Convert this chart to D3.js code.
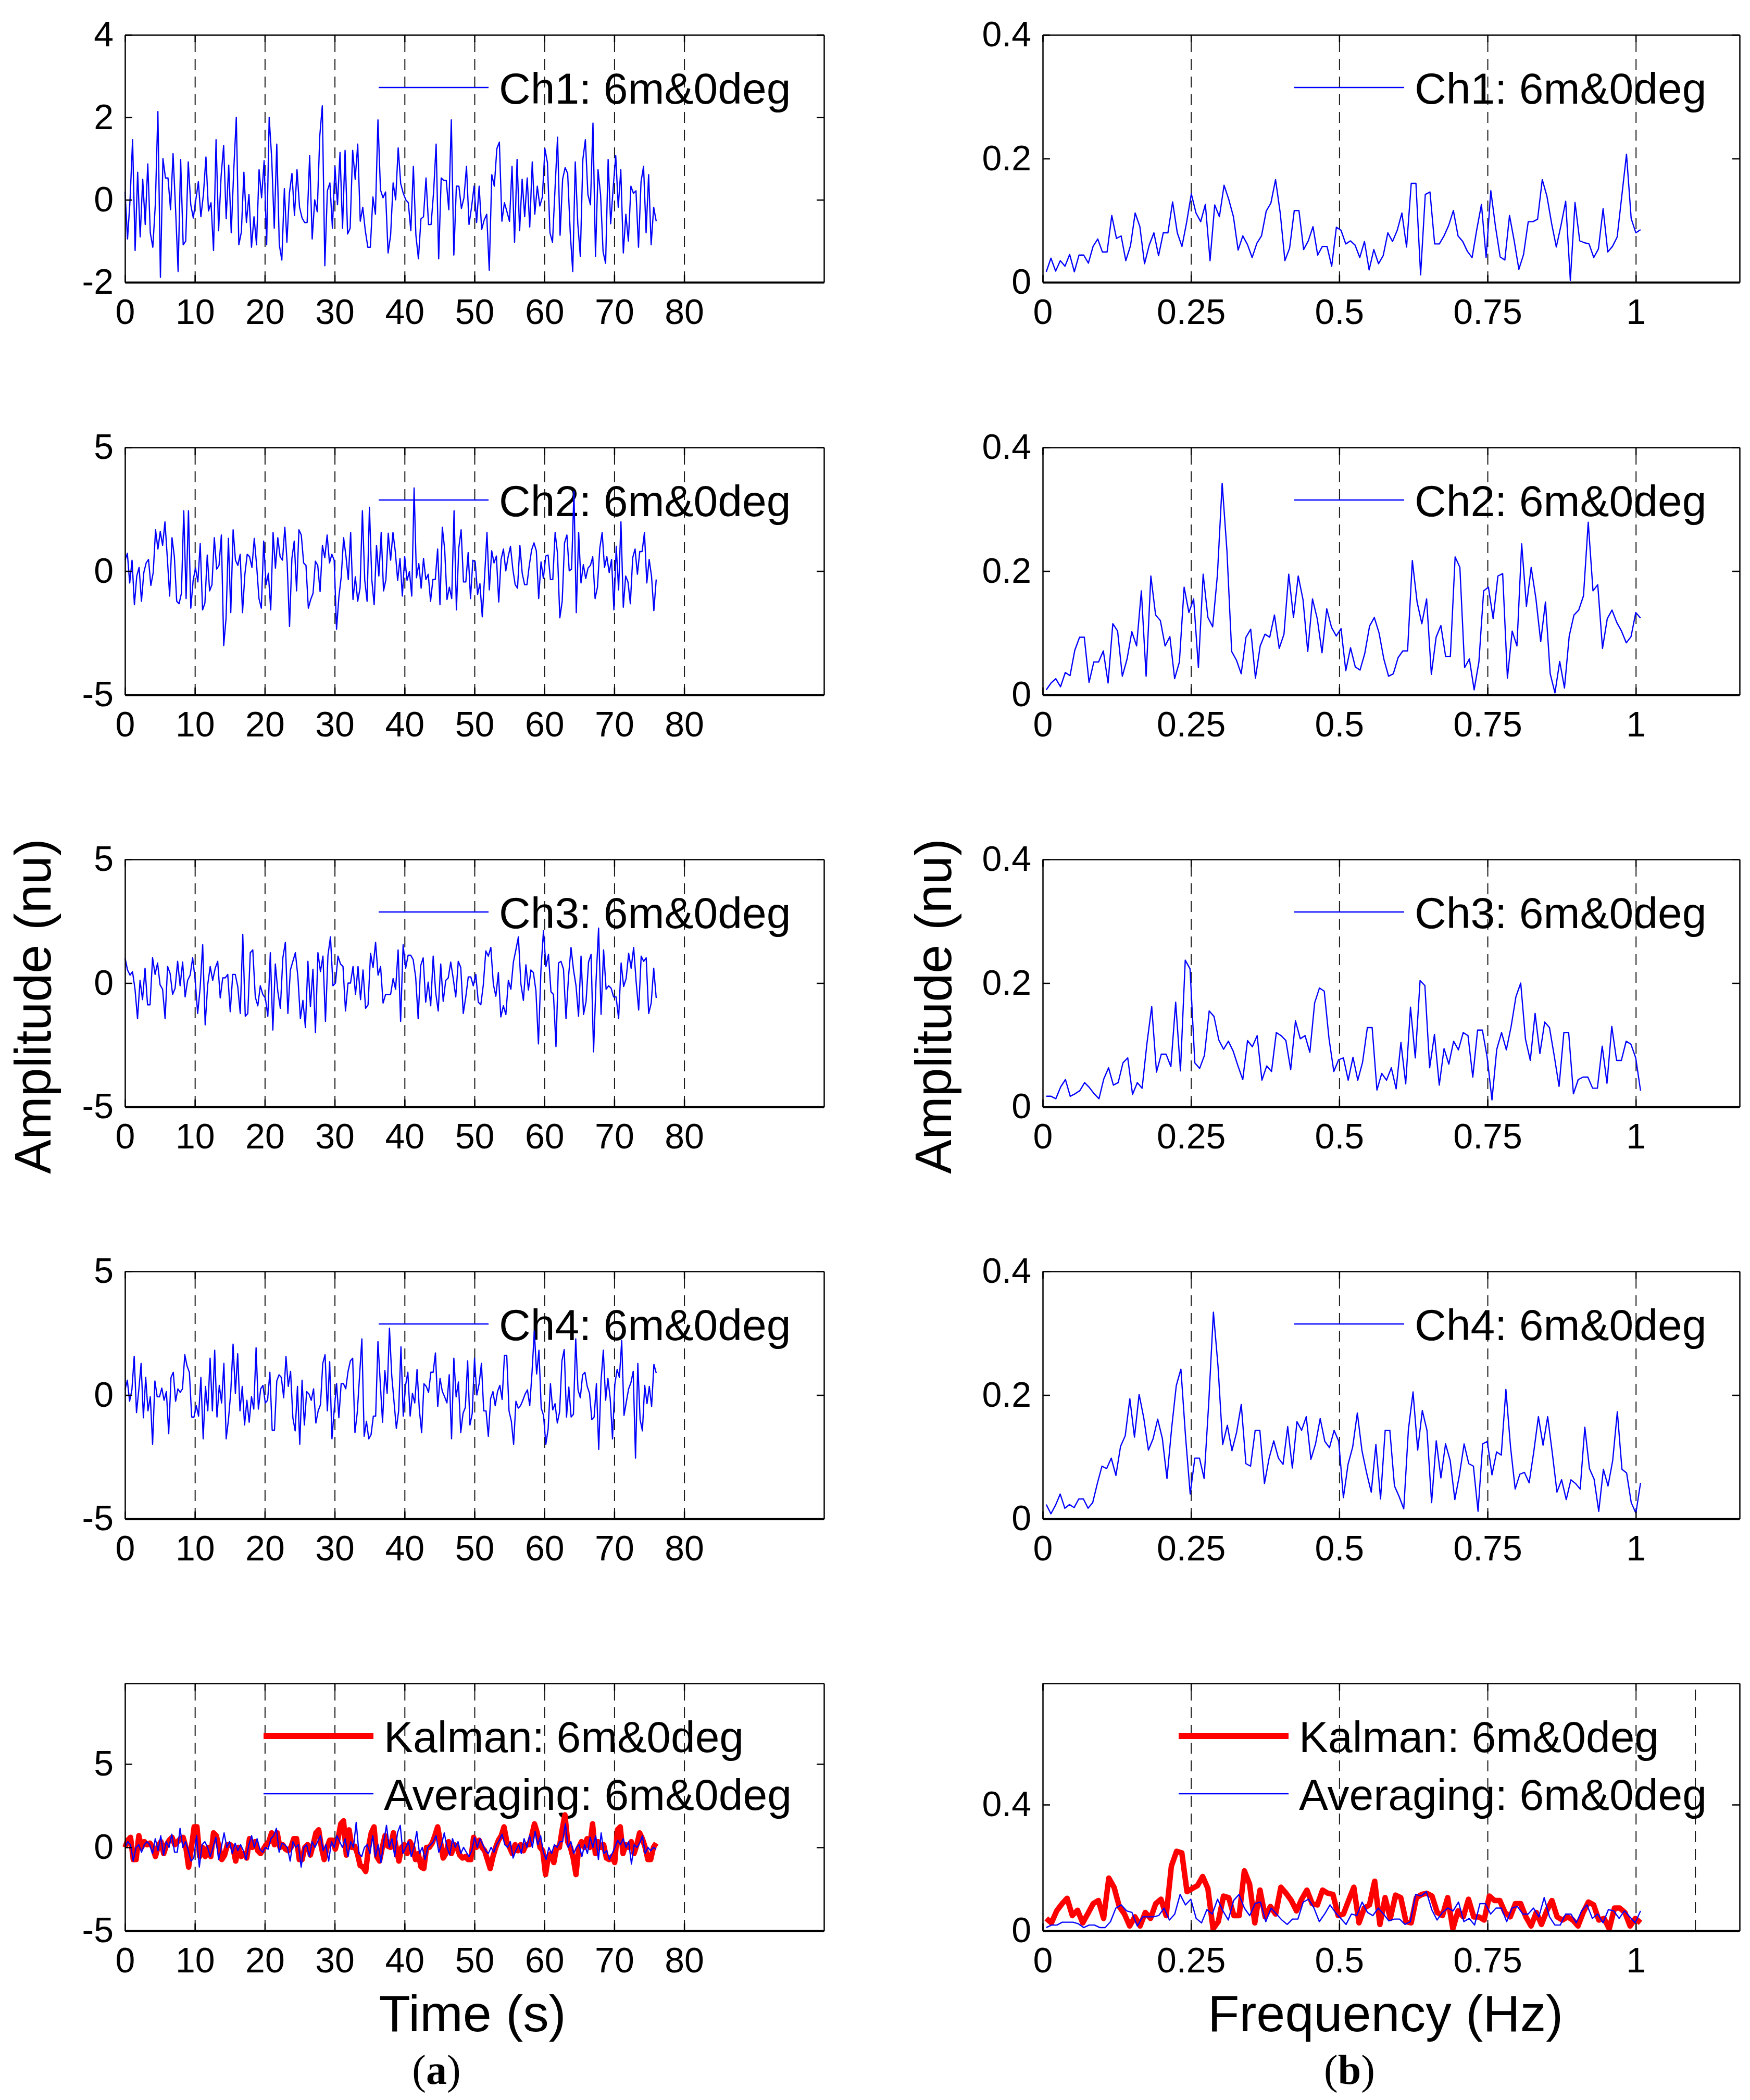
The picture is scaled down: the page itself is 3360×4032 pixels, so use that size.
<!DOCTYPE html>
<html><head><meta charset="utf-8">
<script src="https://cdn.jsdelivr.net/npm/d3@7"></script>
<style>body{margin:0;background:#fff}svg{display:block}</style>
</head><body><svg id="c" width="3360" height="4032"></svg>
<script>
// ---------------- DATA ----------------
const timeTicks = [0,10,20,30,40,50,60,70,80];
const timeGrid = [10,20,30,40,50,60,70,80];
const freqTicks = [0,0.25,0.5,0.75,1];
const freqGrid = [0.25,0.5,0.75,1];
const freqGridBottom = [0.25,0.5,0.75,1,1.1];
const yTicksCh1 = [-2,0,2,4];
const yTicksCh = [-5,0,5];
const yTicksSpec = [0,0.2,0.4];
const yTicksSpecBottom = [0,0.4];
const channelNames = ["Ch1: 6m&0deg","Ch2: 6m&0deg","Ch3: 6m&0deg","Ch4: 6m&0deg"];
const fusedNames = ["Kalman: 6m&0deg","Averaging: 6m&0deg"];
const tStart = 0, tEnd = 76.0;     // seconds covered by the time records
const fStart = 0.006, fEnd = 1.008; // Hz covered by the spectra

const ch1Time = [0.2,-0.95,0,1.46,-1.23,0.67,-0.9,0.5,-0.6,0.87,-0.8,-1.15,-0.1,2.14,-1.88,1.0,0.53,0.53,-0.24,1.12,-0.24,-1.74,0.98,-1.09,-1.0,0.92,-0.12,-0.44,0,0.44,-0.41,0.13,1.04,-0.27,-0.07,-1.23,1.46,-0.75,0.58,1.32,-0.46,0.84,-0.8,0.73,2.0,-1.09,-0.78,0.67,-0.55,0.13,-1.15,-0.41,-1.09,0.73,0.05,0.95,-1.09,2.0,1.0,-0.69,1.35,-1.09,-1.46,0.27,-1.03,0.16,0.64,-0.38,0.73,-0.18,-0.44,-0.55,-0.55,1.07,-0.95,0,-0.29,1.55,2.28,-1.6,0.22,0.41,-0.69,0.81,-0.12,1.15,-0.69,1.2,-0.83,-0.69,1.2,0.5,1.35,-0.52,-0.18,-0.75,-1.15,-1.15,0.07,-0.35,1.94,0.24,0.05,0.19,-1.29,-0.86,0.41,0,1.26,0.39,0.16,0,-0.07,-0.75,0.81,-0.86,-1.43,-0.46,-0.41,0.53,-0.6,-0.6,0.19,1.35,-1.43,0.53,0.47,0.47,-0.24,1.94,-1.34,0.33,0.33,-0.21,0.05,0.81,-0.6,-0.18,0.33,-0.55,0.33,-0.72,-0.49,-0.35,-1.71,0.61,0.33,1.24,1.4,-0.52,-0.07,-0.29,-0.52,0.81,-1.03,0.98,-0.75,0.5,-0.41,0.53,-0.66,0.92,-0.35,0.33,-0.15,0.07,1.24,0.9,-0.8,-1.03,0.27,1.52,-0.86,0.5,0.78,0.64,-0.78,-1.74,0.92,-0.58,-1.37,0.98,1.46,0.13,-0.12,1.86,-1.37,0.73,0.13,-1.26,-1.54,0.98,-0.58,0.3,1.07,-0.18,0.73,-1.29,-0.35,-1.0,0.33,0.16,0.22,-1.15,0.44,0.81,-0.8,0.61,-1.09,-0.18,-0.52];

const ch2Time = [0.44,0.72,-0.48,0.44,-1.36,-0.2,0.15,-1.22,-0.06,0.33,0.47,-0.58,-0.06,1.67,0.89,1.6,1.04,1.99,0.54,-1.01,1.35,0.58,-1.22,-1.32,-0.9,2.44,-1.11,2.44,-1.5,-0.37,0.12,-0.44,1.11,-1.57,-1.29,0.65,-0.8,-0.55,1.35,0.08,0.23,1.46,-3.01,-1.89,1.32,-1.68,1.67,0.44,0.23,0.68,-1.68,-0.13,0.68,0.58,0.15,1.32,0.23,-1.11,-1.5,1.21,-0.55,-0.09,-1.57,1.56,0.12,1.35,0.58,0.44,1.77,0.3,-2.24,0.51,1.21,-0.8,1.67,1.46,0.33,0.23,-1.5,-1.15,-0.9,0.4,0.23,-0.83,1.04,0.54,1.46,0.33,0.68,0.44,-2.35,-1.04,-0.23,1.35,0.61,-0.34,1.56,-1.15,-0.23,-1.22,-0.69,2.44,-0.37,-1.22,2.58,-0.34,-1.36,1.04,-0.2,1.56,-0.8,-0.34,1.53,0.44,1.56,0.79,-0.37,0.51,-1.01,0.58,-0.37,-0.02,-1.01,3.36,-0.27,0.3,-0.69,0.51,-0.34,-0.13,-1.22,-0.34,-0.34,0.89,-1.36,1.77,0.89,-1.15,-0.65,-1.11,2.44,-1.57,0.93,1.67,-0.44,-0.44,0.75,-1.11,0.44,0.37,-0.94,-0.51,-1.85,-0.2,1.56,-0.76,0.82,0.33,0.61,-1.25,0.47,0.89,0.01,0.58,1.0,0.08,-0.55,-0.69,1.04,-0.09,-0.55,-0.55,0.23,0.86,1.14,0.82,-1.11,0.37,-0.3,0.61,0.65,-0.34,-0.34,1.56,0.72,-1.89,-1.22,1.14,1.46,0.01,0.08,3.22,-1.68,1.56,-0.48,0.26,-0.3,0.12,0.23,0.58,-1.11,-0.65,0.93,1.56,0.15,0.58,-0.06,0.47,-1.57,1.0,-0.76,1.99,-1.46,-0.2,-0.44,-1.32,0.54,0.89,-0.13,0.79,0.79,1.56,-0.48,0.47,-0.2,-1.6,-0.34];

const ch3Time = [1.02,0.53,0.32,0.46,-0.25,-1.44,0.11,-0.67,0.6,-0.88,-0.88,1.02,0.35,0.81,-0.07,-0.25,-1.44,0.67,0.39,-0.46,-0.21,0.88,-0.11,0.85,-0.56,0.11,0.32,1.02,0.14,-1.23,-0.18,1.55,-1.69,-0.07,0.67,0.11,0.6,0.88,-0.6,0.21,0.21,0.35,-1.16,0.35,0.35,-0.14,-1.23,1.97,-1.34,-1.23,1.23,1.34,-0.56,-0.92,-0.11,-0.46,-0.6,-1.34,1.23,-1.9,0.77,-0.35,-1.02,1.02,1.65,-1.23,0.53,0.88,1.23,0.25,-1.44,-0.7,-1.8,0.88,-0.95,0.56,-2.0,1.23,0.46,1.09,-1.55,1.13,1.87,-0.11,0,1.09,0.77,0.67,-1.13,0,0,0.67,-0.46,0.67,-0.67,0.53,-1.02,-0.88,1.2,0.63,1.65,0.32,0.67,-0.81,-0.46,-0.46,-0.46,0.18,-0.25,1.34,-1.55,1.55,0.6,1.13,1.13,0.95,0.25,-1.44,0.7,1.02,-0.77,0.04,-0.92,1.09,-0.39,-1.13,0.77,-0.74,0.11,0.21,0.85,0.18,-0.56,0.88,0.63,-1.23,-0.56,0.25,0.25,-0.11,0.35,-0.77,-0.88,-0.07,1.3,1.09,1.44,-0.04,-0.53,0.42,-1.37,-0.92,-1.27,0.11,-0.25,0.85,1.34,1.87,-0.04,-0.7,0.74,-0.28,0.53,0.42,-0.32,-2.46,0.53,2.11,0.67,1.16,-0.35,-0.46,-2.57,0.81,0.88,0.56,-1.44,0.25,1.44,0.53,-0.11,-1.34,1.09,-1.27,-0.74,0.85,1.16,-2.78,0.11,2.22,-1.27,1.34,-0.25,-0.11,-0.21,-0.56,-0.56,-1.44,0.81,-0.14,0.18,1.2,0.6,1.44,0.04,-1.09,1.09,0.88,1.02,-1.23,-0.81,0.6,-0.6];

const ch4Time = [0.21,0.6,-0.25,0.21,1.56,-0.71,0.21,1.28,-0.92,0.71,-0.64,-0.07,-1.99,0.57,-0.07,-0.07,0.28,-0.21,0.14,-1.56,0.71,0.92,-0.25,0.25,0.11,0.25,1.63,1.17,0.92,-0.89,-0.89,-0.43,-0.85,0.71,-1.77,0.35,-0.64,1.49,-0.64,1.81,-0.89,0.39,-0.32,1.28,-1.77,-0.99,0.14,2.06,0.07,1.67,-0.64,0.35,-1.21,-0.21,-1.1,-0.07,-0.57,1.91,-0.57,0.25,0.39,-0.32,-0.21,0.92,-1.42,-1.42,0.57,0.82,0.71,-0.11,1.56,0.35,0.96,-0.92,-1.45,0.35,-1.99,0.6,-1.21,0.14,0.04,-0.21,0.25,-1.13,-0.64,-0.39,1.28,1.63,-0.64,1.35,-1.77,-0.57,0.46,-0.92,0.46,0.46,0.25,0.96,1.38,1.49,-1.52,-0.71,0.78,2.27,-1.67,-1.06,-1.77,-1.6,-0.85,-0.85,2.16,0.5,-1.1,0.99,0.07,2.7,0.78,-0.28,-1.35,-0.64,1.95,-0.85,0.39,0.92,-0.85,0.07,-0.32,1.03,-0.6,-1.52,0.46,0.35,0.11,0.92,0.92,1.7,-0.46,0.67,0.14,-0.07,-0.32,0.82,-1.77,1.49,-0.07,0.53,-1.52,-0.74,-0.5,1.38,-1.21,-0.74,1.49,0,0.46,1.28,-0.64,-0.64,-1.67,-0.14,0.14,-0.43,0.14,0.39,-0.18,1.6,1.6,-0.64,-1.06,-1.99,-0.25,-0.53,-0.43,-0.21,0.04,0.21,-0.43,0.92,2.59,0.85,1.81,-0.53,-0.82,-1.99,-1.38,0.46,-0.6,-0.35,-1.13,-0.67,1.38,1.84,-0.89,0.32,-0.89,-0.78,2.27,0.21,-0.11,0.82,0.92,0.35,0.07,-0.99,-0.89,0.46,-2.2,0.57,1.81,-0.21,0.67,-0.14,-1.77,0.43,1.03,0.71,2.2,-0.82,-0.28,0.25,0.5,0.96,-2.55,1.28,-0.99,-1.45,0.39,-0.35,0.35,-0.46,1.24,0.89];

const kalmanTime = [0,0.43,0.6,-0.73,-0.73,0.7,0,0.34,0.16,0.25,0,-0.55,0.07,0.34,-0.37,0.16,0.43,0.6,0.16,0.34,0.52,0.6,0,-1.18,0,1.23,1.23,-0.55,0,-0.55,0,-0.55,0.87,0.7,0,-0.73,-0.46,0.16,0.16,0,-0.82,0,-0.55,-0.37,-0.64,0.52,0,0.34,-0.2,-0.37,-0.11,0.16,0.34,0.87,0.16,0.87,0,0.16,-0.11,-0.2,0,0.52,0.52,-0.73,-0.73,0,0.16,-0.46,0.16,0.87,1.05,0,-0.73,0,0.43,0.43,-0.11,0.52,1.41,1.59,-0.46,1.05,0,0.07,-0.37,-1.09,-1.18,-1.45,0,0.87,1.23,-0.55,-0.82,0,0.7,0.07,0,0.87,0,-0.82,0,0.16,-0.37,0.34,0,-0.73,-0.37,-1.18,-1.27,0,0,0.25,0.7,1.23,0.34,-0.64,-0.37,0.34,-0.37,0.16,0,-0.46,-0.64,-0.55,-0.73,-0.73,0.6,0,0.43,0,-0.2,-0.73,-1.27,-0.55,0,0.43,0.7,1.23,0.34,0,-0.37,0.16,-0.2,0.16,-0.2,0.16,0.16,0.7,1.41,0.87,0,-0.2,-1.63,-0.55,-0.37,-0.91,0,0,1.05,1.95,0.34,0,-0.64,-1.63,0,0.34,0,0.52,0,1.41,-0.37,0.34,0,0.16,-0.64,-0.73,-0.55,-0.91,1.05,1.23,-0.37,0.16,0,0.34,-0.37,0.16,0.87,0.52,0,-0.73,-0.73,0,0.25];

const averagingTime = [0,0.34,0.16,-0.82,0,0.16,-0.29,0.16,0.34,0.16,-0.37,0.52,-0.2,0.7,-0.46,0.34,0,0.79,-0.29,-0.29,1.14,0,0.34,-0.2,-0.82,-0.64,0.7,-1.18,0.16,0.34,0,-0.55,0,0.6,-0.73,0,0.87,0,0.34,-0.37,0.25,-0.2,0.16,-0.2,-0.73,0.16,0.7,0,0.52,-0.11,-0.29,0,-0.11,0.52,0.7,1.14,-0.29,0.25,0.16,0,-0.82,0.34,0,0.16,-1.18,0,0.16,-0.55,0.34,0,0.34,0.7,-0.2,0.16,-0.82,0.34,0,0.7,0.34,0,0.52,-0.55,0.34,0,1.5,-0.37,-0.55,0,0.16,-0.37,0.7,-0.55,0.16,-0.91,0.34,1.32,0,0.52,-0.55,0.87,1.32,-0.37,0,0.34,-0.55,0,0.96,-0.37,0,-0.73,0,0.16,0.34,0.7,-0.29,0.16,0.87,0,-0.46,0.52,0,0.34,-0.37,0,-0.29,-0.55,-0.2,0.6,0,0.52,0.16,-0.2,-0.37,0,-0.29,0.16,0.43,0.79,0.16,0,0.34,-0.64,-0.2,0.16,-0.37,0.52,0,0.7,0,0.96,0.16,0.7,-0.29,-0.73,0,-0.37,0.16,0,0.34,0.34,1.41,0,0.34,-0.37,0,0.16,-0.55,0.16,-0.37,0.6,0,0.7,-0.73,0.87,-0.37,-0.2,-0.73,-0.37,0,0.43,0.16,0.52,0,0.34,-1.0,0.16,0,0.25,0.7,-0.37,0,-0.2,0,-0.11];

const ch1Spec = [0.017,0.039,0.018,0.035,0.026,0.045,0.017,0.044,0.044,0.031,0.058,0.070,0.049,0.049,0.108,0.071,0.075,0.035,0.059,0.112,0.090,0.030,0.060,0.080,0.043,0.080,0.080,0.130,0.080,0.058,0.097,0.143,0.112,0.098,0.126,0.035,0.125,0.106,0.157,0.134,0.106,0.052,0.075,0.061,0.040,0.063,0.075,0.115,0.128,0.166,0.112,0.035,0.055,0.116,0.116,0.053,0.067,0.090,0.044,0.058,0.058,0.026,0.089,0.084,0.062,0.067,0.060,0.040,0.066,0.020,0.053,0.030,0.043,0.080,0.066,0.084,0.112,0.057,0.160,0.160,0.012,0.142,0.146,0.062,0.062,0.075,0.092,0.116,0.075,0.066,0.050,0.040,0.085,0.126,0.040,0.148,0.090,0.041,0.036,0.108,0.067,0.021,0.045,0.098,0.098,0.102,0.166,0.139,0.095,0.057,0.092,0.131,0.003,0.129,0.067,0.064,0.062,0.040,0.054,0.119,0.049,0.058,0.073,0.140,0.207,0.103,0.080,0.085];

const ch2Spec = [0.008,0.019,0.026,0.013,0.036,0.031,0.072,0.093,0.093,0.020,0.053,0.053,0.071,0.019,0.115,0.103,0.030,0.058,0.102,0.079,0.168,0.030,0.192,0.129,0.120,0.079,0.094,0.026,0.053,0.174,0.133,0.155,0.044,0.195,0.125,0.110,0.194,0.342,0.233,0.070,0.056,0.034,0.093,0.106,0.027,0.079,0.098,0.093,0.129,0.075,0.098,0.195,0.125,0.192,0.154,0.070,0.155,0.123,0.068,0.139,0.109,0.095,0.107,0.039,0.076,0.045,0.040,0.067,0.111,0.125,0.100,0.058,0.030,0.034,0.060,0.071,0.071,0.217,0.150,0.115,0.155,0.033,0.093,0.112,0.062,0.062,0.223,0.206,0.044,0.058,0.008,0.053,0.168,0.174,0.123,0.192,0.196,0.027,0.103,0.079,0.244,0.143,0.206,0.155,0.086,0.150,0.034,0.003,0.054,0.011,0.095,0.129,0.137,0.160,0.279,0.168,0.178,0.075,0.123,0.137,0.117,0.103,0.084,0.094,0.133,0.124];

const ch3Spec = [0.017,0.017,0.013,0.032,0.044,0.017,0.021,0.026,0.039,0.031,0.021,0.013,0.045,0.063,0.035,0.039,0.071,0.079,0.020,0.039,0.030,0.102,0.162,0.056,0.085,0.085,0.065,0.169,0.058,0.237,0.223,0.071,0.062,0.083,0.155,0.146,0.108,0.093,0.106,0.090,0.066,0.044,0.107,0.097,0.115,0.043,0.066,0.057,0.120,0.115,0.107,0.060,0.139,0.110,0.115,0.088,0.168,0.192,0.187,0.110,0.057,0.076,0.079,0.043,0.080,0.043,0.072,0.128,0.128,0.027,0.054,0.043,0.063,0.029,0.104,0.037,0.161,0.079,0.204,0.196,0.063,0.117,0.035,0.094,0.069,0.106,0.092,0.120,0.115,0.048,0.124,0.124,0.080,0.011,0.093,0.120,0.092,0.130,0.178,0.200,0.109,0.075,0.151,0.086,0.137,0.128,0.082,0.033,0.120,0.120,0.021,0.044,0.048,0.048,0.030,0.030,0.098,0.038,0.130,0.075,0.075,0.106,0.101,0.079,0.026];

const ch4Spec = [0.023,0.008,0.022,0.040,0.017,0.023,0.018,0.032,0.032,0.017,0.026,0.057,0.085,0.081,0.098,0.070,0.117,0.134,0.194,0.132,0.201,0.163,0.111,0.129,0.161,0.130,0.065,0.146,0.215,0.242,0.133,0.040,0.098,0.098,0.065,0.188,0.334,0.246,0.120,0.151,0.110,0.140,0.185,0.089,0.085,0.143,0.143,0.057,0.098,0.126,0.098,0.088,0.149,0.082,0.157,0.143,0.165,0.096,0.121,0.162,0.125,0.115,0.143,0.125,0.034,0.088,0.116,0.171,0.110,0.074,0.043,0.120,0.032,0.143,0.143,0.053,0.036,0.016,0.144,0.205,0.111,0.175,0.143,0.026,0.126,0.066,0.121,0.094,0.031,0.071,0.121,0.089,0.085,0.012,0.121,0.125,0.071,0.108,0.103,0.209,0.116,0.048,0.072,0.075,0.058,0.108,0.165,0.119,0.165,0.106,0.043,0.063,0.031,0.063,0.057,0.048,0.148,0.081,0.064,0.012,0.080,0.053,0.094,0.173,0.080,0.074,0.026,0.009,0.058];

const kalmanSpec = [0.039,0.025,0.063,0.085,0.103,0.048,0.065,0.025,0.055,0.086,0.096,0.039,0.167,0.138,0.077,0.053,0.015,0.044,0.015,0.058,0.039,0.086,0.100,0.048,0.205,0.252,0.247,0.124,0.134,0.143,0.172,0.134,0.006,0.029,0.110,0.105,0.048,0.048,0.190,0.148,0.025,0.129,0.044,0.077,0.053,0.138,0.119,0.096,0.063,0.100,0.129,0.086,0.082,0.129,0.119,0.115,0.048,0.053,0.096,0.138,0.025,0.072,0.082,0.157,0.020,0.105,0.039,0.113,0.105,0.029,0.025,0.105,0.115,0.119,0.110,0.058,0.048,0.105,0.006,0.063,0.044,0.100,0.044,0.044,0.034,0.110,0.096,0.096,0.058,0.044,0.086,0.086,0.044,0.015,0.058,0.020,0.063,0.096,0.044,0.034,0.044,0.034,0.015,0.058,0.091,0.082,0.034,0.039,0.006,0.072,0.072,0.058,0.015,0.039,0.025];

const averagingSpec = [0.010,0.018,0.018,0.027,0.027,0.027,0.022,0.010,0.018,0.018,0.010,0.010,0.029,0.072,0.082,0.063,0.058,0.015,0.044,0.044,0.044,0.048,0.072,0.034,0.053,0.115,0.082,0.100,0.039,0.025,0.067,0.053,0.100,0.063,0.034,0.096,0.115,0.072,0.048,0.086,0.091,0.029,0.072,0.053,0.034,0.020,0.037,0.037,0.091,0.100,0.072,0.029,0.053,0.082,0.058,0.039,0.020,0.053,0.048,0.091,0.058,0.048,0.072,0.053,0.031,0.037,0.037,0.020,0.029,0.115,0.110,0.124,0.067,0.034,0.058,0.072,0.063,0.091,0.029,0.039,0.018,0.086,0.086,0.053,0.072,0.072,0.029,0.072,0.077,0.053,0.053,0.072,0.044,0.105,0.044,0.018,0.018,0.053,0.053,0.025,0.063,0.082,0.039,0.053,0.025,0.067,0.063,0.039,0.063,0.044,0.025,0.063];

// ---------------- DRAWING ----------------
const svg = d3.select("#c");
const SANS = "'Liberation Sans', Arial, Helvetica, sans-serif";
const SERIF = "'Liberation Serif', 'Times New Roman', serif";
const BLUE = "#0000ff", RED = "#ff0000";

const rowTops = [67, 859, 1650, 2441, 3232];
const panelH = 475;
const leftX0 = 240, leftW = 1342;
const rightX0 = 2002, rightW = 1338;

const spread = (arr, a, b) => arr.map((v, i) => [a + (b - a) * i / (arr.length - 1), v]);
const fmt = d => String(d);

function panel(o) {
  const g = svg.append("g");
  const x = d3.scaleLinear().domain(o.xDomain).range([o.x0, o.x0 + o.w]);
  const y = d3.scaleLinear().domain(o.yDomain).range([o.top + panelH, o.top]);
  const bottom = o.top + panelH;

  // dashed vertical grid
  const grid = g.append("g").attr("transform", `translate(0,${bottom})`)
    .call(d3.axisBottom(x).tickValues(o.grid).tickSize(-panelH).tickFormat(() => ""));
  grid.select(".domain").remove();
  grid.selectAll("line").attr("stroke", "#1a1a1a").attr("stroke-width", 2).attr("stroke-dasharray", "21,13");

  // legend (drawn beneath the data, no background)
  o.legend.forEach((L, i) => {
    const ly = o.top + 101 + i * 111;
    g.append("line").attr("x1", o.x0 + L.lx).attr("x2", o.x0 + L.lx + 211)
      .attr("y1", ly).attr("y2", ly).attr("stroke", L.color).attr("stroke-width", L.width);
    g.append("text").attr("x", o.x0 + L.lx + 231).attr("y", ly + 31)
      .attr("font-family", SANS).attr("font-size", 84).attr("fill", "#000").text(L.name);
  });

  // data lines
  const line = d3.line().x(d => x(d[0])).y(d => y(d[1]));
  o.series.forEach(s => {
    g.append("path").datum(s.pts).attr("d", line).attr("fill", "none")
      .attr("stroke", s.color).attr("stroke-width", s.width).attr("stroke-linejoin", "round");
  });

  // axes (box with inward ticks)
  const ax = (gen, tr) => g.append("g").attr("transform", tr).call(gen);
  const b = ax(d3.axisBottom(x).tickValues(o.xTicks).tickSizeInner(-14).tickSizeOuter(0).tickPadding(32).tickFormat(fmt), `translate(0,${bottom})`);
  const t = ax(d3.axisTop(x).tickValues(o.xTicks).tickSizeInner(-14).tickSizeOuter(0).tickFormat(() => ""), `translate(0,${o.top})`);
  const l = ax(d3.axisLeft(y).tickValues(o.yTicks).tickSizeInner(-14).tickSizeOuter(0).tickPadding(22).tickFormat(fmt), `translate(${o.x0},0)`);
  const r = ax(d3.axisRight(y).tickValues(o.yTicks).tickSizeInner(-14).tickSizeOuter(0).tickFormat(() => ""), `translate(${o.x0 + o.w},0)`);
  [b, t, l, r].forEach(a => {
    a.attr("font-family", SANS).attr("font-size", 68);
    a.selectAll("line").attr("stroke", "#000").attr("stroke-width", 2.5);
    a.select(".domain").attr("stroke", "#000").attr("stroke-width", 2.5);
    a.selectAll("text").attr("fill", "#000");
  });
  b.select(".domain").attr("stroke-width", 4);
}

const timeSeries = [ch1Time, ch2Time, ch3Time, ch4Time];
const specSeries = [ch1Spec, ch2Spec, ch3Spec, ch4Spec];

for (let i = 0; i < 4; i++) {
  panel({
    x0: leftX0, w: leftW, top: rowTops[i], xDomain: [0, 100],
    yDomain: i === 0 ? [-2, 4] : [-5, 5], yTicks: i === 0 ? yTicksCh1 : yTicksCh,
    xTicks: timeTicks, grid: timeGrid,
    legend: [{ name: channelNames[i], color: BLUE, width: 2.4, lx: 487 }],
    series: [{ pts: spread(timeSeries[i], tStart, tEnd), color: BLUE, width: 2.4 }]
  });
  panel({
    x0: rightX0, w: rightW, top: rowTops[i], xDomain: [0, 1.175],
    yDomain: [0, 0.4], yTicks: yTicksSpec,
    xTicks: freqTicks, grid: freqGrid,
    legend: [{ name: channelNames[i], color: BLUE, width: 2.4, lx: 483 }],
    series: [{ pts: spread(specSeries[i], fStart, fEnd), color: BLUE, width: 2.4 }]
  });
}

panel({
  x0: leftX0, w: leftW, top: rowTops[4], xDomain: [0, 100],
  yDomain: [-5, 9.84], yTicks: yTicksCh,
  xTicks: timeTicks, grid: timeGrid,
  legend: [{ name: fusedNames[0], color: RED, width: 12, lx: 266 },
           { name: fusedNames[1], color: BLUE, width: 2.4, lx: 266 }],
  series: [{ pts: spread(kalmanTime, tStart, tEnd), color: RED, width: 10.5 },
           { pts: spread(averagingTime, tStart, tEnd), color: BLUE, width: 2.4 }]
});
panel({
  x0: rightX0, w: rightW, top: rowTops[4], xDomain: [0, 1.175],
  yDomain: [0, 0.785], yTicks: yTicksSpecBottom,
  xTicks: freqTicks, grid: freqGridBottom,
  legend: [{ name: fusedNames[0], color: RED, width: 12, lx: 261 },
           { name: fusedNames[1], color: BLUE, width: 2.4, lx: 261 }],
  series: [{ pts: spread(kalmanSpec, fStart, fEnd), color: RED, width: 10.5 },
           { pts: spread(averagingSpec, fStart, fEnd), color: BLUE, width: 2.4 }]
});

// axis titles
const title = (txt, x, y, rot) => svg.append("text")
  .attr("transform", `translate(${x},${y})` + (rot ? " rotate(-90)" : ""))
  .attr("text-anchor", "middle").attr("font-family", SANS).attr("font-size", 99)
  .attr("fill", "#000").text(txt);
title("Amplitude (nu)", 97, 1932, true);
title("Amplitude (nu)", 1826, 1932, true);
title("Time (s)", 907, 3900, false);
title("Frequency (Hz)", 2660, 3900, false);

// sub-figure labels
const sub = (letter, x) => {
  const t = svg.append("text").attr("x", x).attr("y", 4001).attr("text-anchor", "middle")
    .attr("font-family", SERIF).attr("font-size", 80).attr("fill", "#000");
  t.append("tspan").text("(");
  t.append("tspan").attr("font-weight", "bold").text(letter);
  t.append("tspan").text(")");
};
sub("a", 838);
sub("b", 2591);
</script></body></html>
